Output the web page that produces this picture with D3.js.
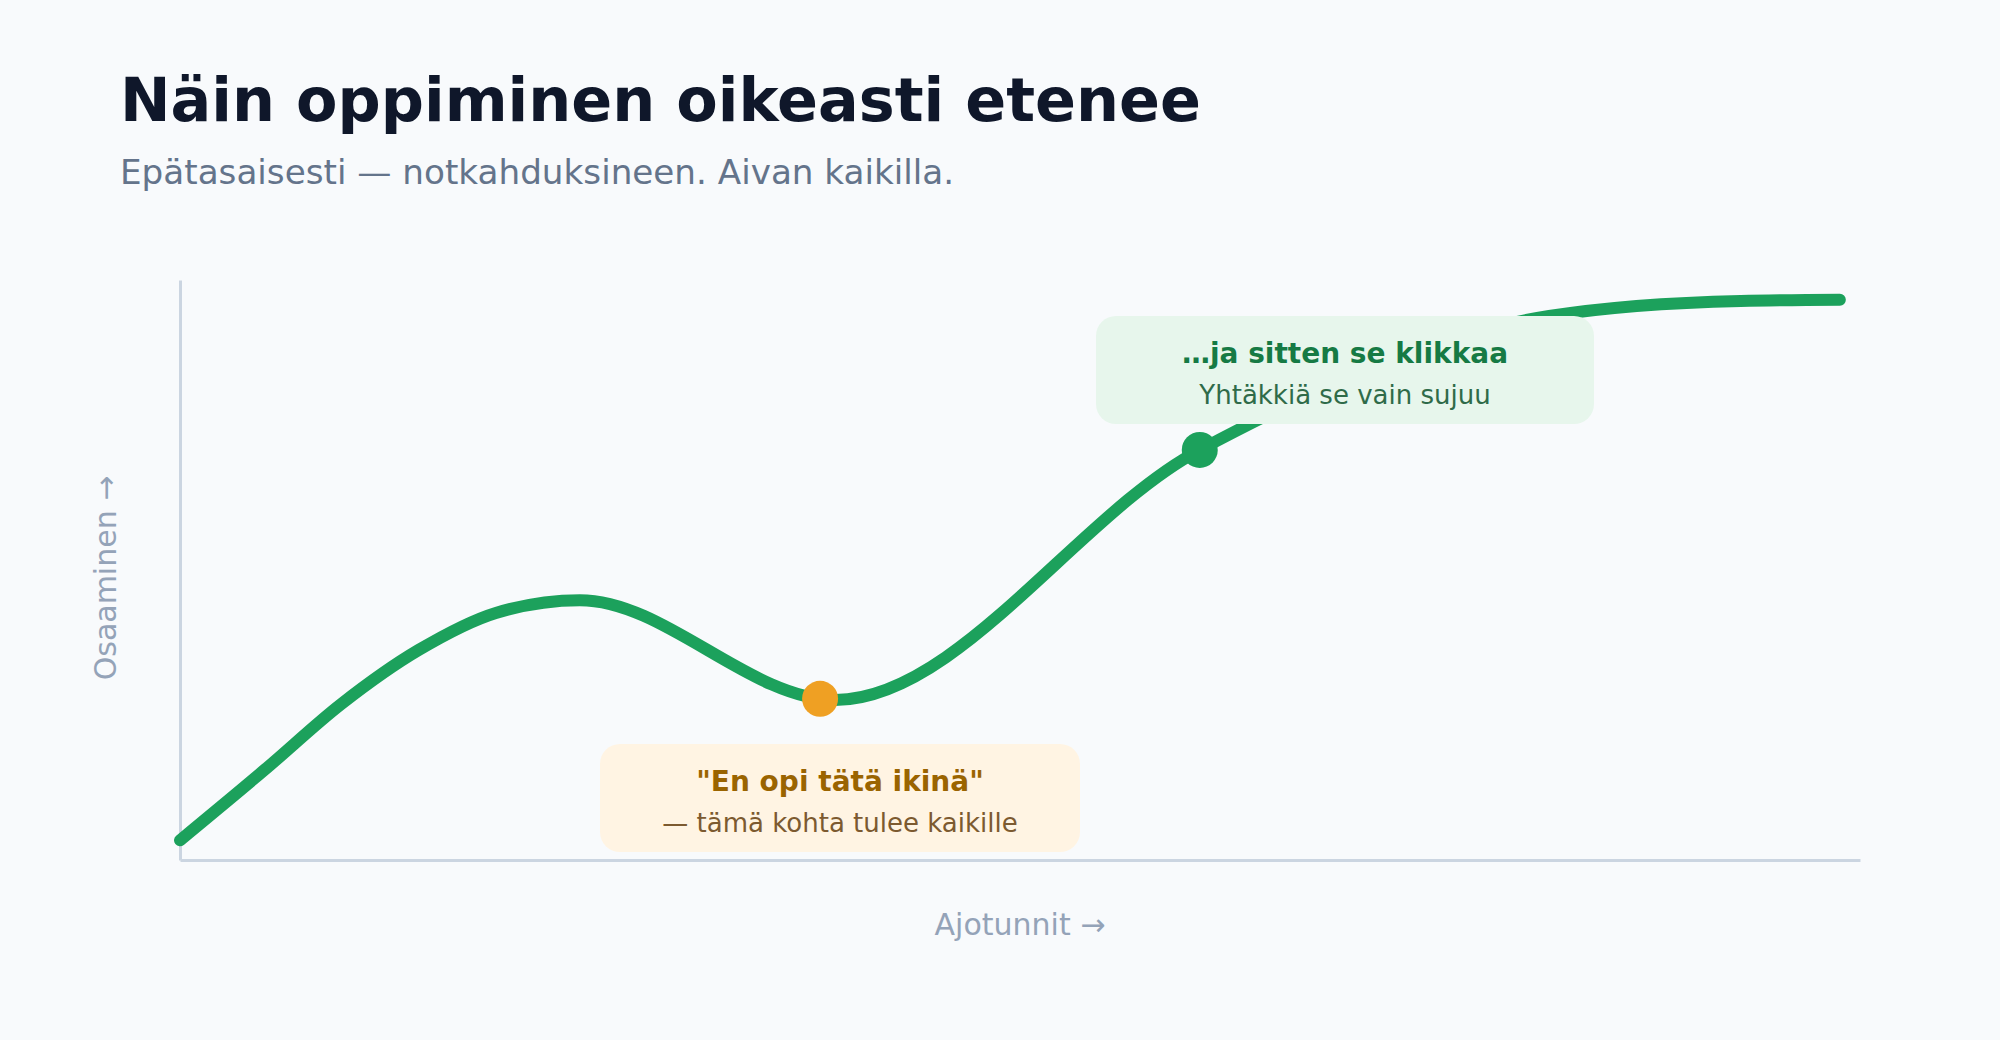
<!DOCTYPE html>
<html lang="fi">
<head>
<meta charset="utf-8">
<script src="https://cdn.jsdelivr.net/npm/d3@7/dist/d3.min.js"></script>
<style>
  html, body { margin: 0; padding: 0; background: #f8fafc; }
  svg { display: block; font-family: "DejaVu Sans", Verdana, sans-serif; }
</style>
</head>
<body>
<svg id="chart" width="2000" height="1040"></svg>
<script>
// Learning curve: skill vs. driving hours, with a dip and a "click".
// Key points of the curve (hours 0-100, skill 0-100)
const hours = [0, 5.1, 9.6, 14.2, 18.8, 23.8, 39.0, 60.7, 81.5, 92.9, 98.8];
const skill = [3.4, 15.7, 26.9, 36.2, 42.6, 44.8, 27.6, 70.7, 93.8, 96.4, 96.6];

// marked points
const stallPoint = [38.1, 27.8];   // the dip
const clickIdx = 7;                // where it clicks (index into the series)

const titleText = 'Näin oppiminen oikeasti etenee';
const subtitleText = 'Epätasaisesti — notkahduksineen. Aivan kaikilla.';
const xLabel = 'Ajotunnit →';
const yLabel = 'Osaaminen →';
const stallNote = ['"En opi tätä ikinä"', '— tämä kohta tulee kaikille'];
const clickNote = ['…ja sitten se klikkaa', 'Yhtäkkiä se vain sujuu'];

const margin = { top: 280, right: 140, bottom: 180, left: 180 };
const W = 2000, H = 1040;

const svg = d3.select('#chart');
svg.append('rect').attr('width', W).attr('height', H).attr('fill', '#f8fafc');

const x = d3.scaleLinear().domain([0, 100]).range([margin.left, W - margin.right]);
const y = d3.scaleLinear().domain([0, 100]).range([H - margin.bottom, margin.top]);

// title + subtitle
svg.append('text').attr('x', 120).attr('y', 121)
  .attr('font-size', 60.4).attr('font-weight', 'bold').attr('fill', '#0f172a')
  .text(titleText);
svg.append('text').attr('x', 120).attr('y', 184)
  .attr('font-size', 34.2).attr('fill', '#64748b')
  .text(subtitleText);

// axes: bare domain lines, no ticks
const axisX = svg.append('g').attr('transform', `translate(0,${y(0)})`)
  .call(d3.axisBottom(x).tickValues([]).tickSizeOuter(0));
const axisY = svg.append('g').attr('transform', `translate(${x(0)},0)`)
  .call(d3.axisLeft(y).tickValues([]).tickSizeOuter(0));
[axisX, axisY].forEach((g) => g.select('.domain').attr('stroke', '#cbd5e1').attr('stroke-width', 3));

svg.append('text').attr('x', (x(0) + x(100)) / 2).attr('y', 935)
  .attr('text-anchor', 'middle').attr('font-size', 30).attr('fill', '#94a3b8')
  .text(xLabel);
svg.append('text').attr('transform', 'translate(116,578) rotate(-90)')
  .attr('text-anchor', 'middle').attr('font-size', 30).attr('fill', '#94a3b8')
  .text(yLabel);

// the curve
const pts = hours.map((h, i) => [h, skill[i]]);
const line = d3.line().x((d) => x(d[0])).y((d) => y(d[1])).curve(d3.curveMonotoneX);
svg.append('path').datum(pts).attr('d', line)
  .attr('fill', 'none').attr('stroke', '#1ca15c').attr('stroke-width', 12)
  .attr('stroke-linecap', 'round').attr('stroke-linejoin', 'round');

// dots
svg.append('circle').attr('cx', x(stallPoint[0])).attr('cy', y(stallPoint[1]))
  .attr('r', 18).attr('fill', '#efa023');
svg.append('circle').attr('cx', x(hours[clickIdx])).attr('cy', y(skill[clickIdx]))
  .attr('r', 18).attr('fill', '#1ca15c');

// callout boxes
function note(box, lines, fill, c1, c2) {
  const g = svg.append('g');
  g.append('rect').attr('x', box.x).attr('y', box.y).attr('width', box.w).attr('height', box.h)
    .attr('rx', 20).attr('fill', fill);
  const cx = box.x + box.w / 2;
  g.append('text').attr('x', cx).attr('y', box.y + 47).attr('text-anchor', 'middle')
    .attr('font-size', 28).attr('font-weight', 'bold').attr('fill', c1).text(lines[0]);
  g.append('text').attr('x', cx).attr('y', box.y + 88).attr('text-anchor', 'middle')
    .attr('font-size', 26).attr('fill', c2).text(lines[1]);
}
note({ x: 600, y: 744, w: 480, h: 108 }, stallNote, '#fff4e3', '#9a6400', '#7c5a30');
note({ x: 1096, y: 316, w: 498, h: 108 }, clickNote, '#e7f6ec', '#167a44', '#2f6b49');
</script>
</body>
</html>
